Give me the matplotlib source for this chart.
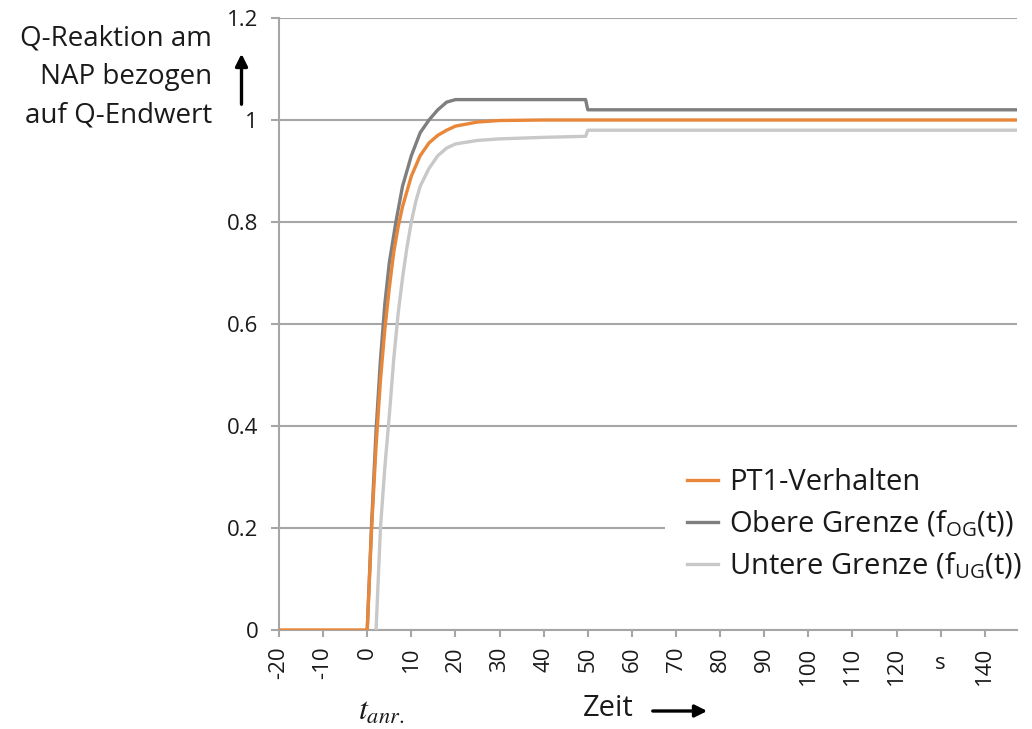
import matplotlib
matplotlib.use("Agg")
import matplotlib.pyplot as plt
from matplotlib.patches import FancyArrowPatch

# ---- data ----
t_pt1 = [-20, 0, 1, 2, 3, 4, 5, 6, 7, 8, 10, 12, 14, 16, 18, 20, 25, 30, 40, 147]
q_pt1 = [0, 0, 0.20, 0.36, 0.49, 0.59, 0.67, 0.74, 0.79, 0.83, 0.89, 0.93, 0.955, 0.97, 0.98, 0.988, 0.996, 0.999, 1.0, 1.0]

t_og = [0, 1, 2, 3, 4, 5, 6.5, 8, 10, 12, 14, 16, 18, 20, 49.5, 50, 147]
q_og = [0, 0.21, 0.39, 0.53, 0.64, 0.72, 0.80, 0.87, 0.93, 0.975, 1.0, 1.02, 1.035, 1.04, 1.04, 1.02, 1.02]

t_ug = [2, 3, 4, 5, 6, 7, 8, 9, 10, 11, 12, 14, 16, 18, 20, 25, 30, 40, 49.5, 50, 147]
q_ug = [0, 0.20, 0.32, 0.42, 0.53, 0.62, 0.69, 0.75, 0.80, 0.84, 0.87, 0.905, 0.93, 0.945, 0.953, 0.96, 0.963, 0.966, 0.968, 0.98, 0.98]

x_ticks = [-20, -10, 0, 10, 20, 30, 40, 50, 60, 70, 80, 90, 100, 110, 120, 130, 140]
x_labels = ["-20", "-10", "0", "10", "20", "30", "40", "50", "60", "70", "80", "90",
            "100", "110", "120", "s", "140"]
y_ticks = [0, 0.2, 0.4, 0.6, 0.8, 1.0, 1.2]
y_labels = ["0", "0.2", "0.4", "0.6", "0.8", "1", "1.2"]

series_names = ["PT1-Verhalten", r"Obere Grenze (f$_{\mathrm{OG}}$(t))", r"Untere Grenze (f$_{\mathrm{UG}}$(t))"]
colors = ["#E8873A", "#7F7F7F", "#C8C8C8"]

plt.rcParams['font.family'] = ['Open Sans', 'DejaVu Sans']
plt.rcParams['mathtext.fontset'] = 'custom'
plt.rcParams['mathtext.rm'] = 'Open Sans'

fig = plt.figure(figsize=(10.32, 7.29), dpi=100)
ax = fig.add_axes([279/1032, 99/729, 738/1032, 612/729])

txt_c = "#1a1a1a"
grid_c = "#A6A6A6"
ax.set_xlim(-20, 147.3)
ax.set_ylim(0, 1.2)
ax.set_yticks(y_ticks)
ax.set_yticklabels(y_labels, fontsize=16)
ax.set_xticks(x_ticks)
ax.set_xticklabels(x_labels, fontsize=16, rotation=90)
ax.yaxis.grid(True, color=grid_c, linewidth=1.5)
ax.set_axisbelow(True)
for s in ["top", "right"]:
    ax.spines[s].set_visible(False)
for s in ["left", "bottom"]:
    ax.spines[s].set_color(grid_c)
    ax.spines[s].set_linewidth(1.5)
ax.tick_params(axis='both', color=grid_c, width=1.5, labelcolor=txt_c)
ax.tick_params(axis='x', length=5, pad=7)
ax.tick_params(axis='y', length=6, pad=9)

# the "s" (unit) label sits upright in the gap at 130
xt = ax.get_xticklabels()
idx_s = x_labels.index("s")
xt[idx_s].set_visible(False)
ax.text(x_ticks[idx_s], -0.054, x_labels[idx_s], transform=ax.get_xaxis_transform(),
        ha='center', va='center', fontsize=16, color=txt_c)

l1, = ax.plot(t_ug, q_ug, color=colors[2], linewidth=2.4, solid_joinstyle='round', zorder=3)
l2, = ax.plot(t_og, q_og, color=colors[1], linewidth=2.4, solid_joinstyle='round', zorder=4)
l0, = ax.plot(t_pt1, q_pt1, color=colors[0], linewidth=2.4, solid_joinstyle='round', zorder=5)

leg = ax.legend([l0, l2, l1], series_names, loc='upper left', bbox_to_anchor=(0.523, 0.3007),
                fontsize=21, frameon=True, facecolor='white', edgecolor='none', framealpha=1,
                handlelength=1.06, handletextpad=0.38, labelspacing=0.39, borderpad=0.75,
                borderaxespad=0, fancybox=False)
leg.get_frame().set_linewidth(0)
for t in leg.get_texts():
    t.set_color(txt_c)

# y-axis label and arrow
fig.text(212/1032, 1 - 77/729, "Q-Reaktion am\nNAP bezogen\nauf Q-Endwert", ha='right', va='center',
         multialignment='right', fontsize=20, linespacing=1.5, color=txt_c)
fig.patches.append(FancyArrowPatch(
    (241.5/1032, 1 - 107/729), (241.5/1032, 1 - 51/729), transform=fig.transFigure,
    arrowstyle='-|>', mutation_scale=18, linewidth=2.4, color='black'))

# x-axis label and arrow
fig.text(583/1032, 1 - 709/729, "Zeit", ha='left', va='center', fontsize=21, color=txt_c)
fig.patches.append(FancyArrowPatch(
    (650/1032, 1 - 711/729), (710/1032, 1 - 711/729), transform=fig.transFigure,
    arrowstyle='-|>', mutation_scale=18, linewidth=2.4, color='black'))

fig.text(381/1032, 1 - 711/729, r"$t_{anr.}$", ha='center', va='center', fontsize=23,
         math_fontfamily='stix', color=txt_c)

fig.savefig("out.png", dpi=100)
